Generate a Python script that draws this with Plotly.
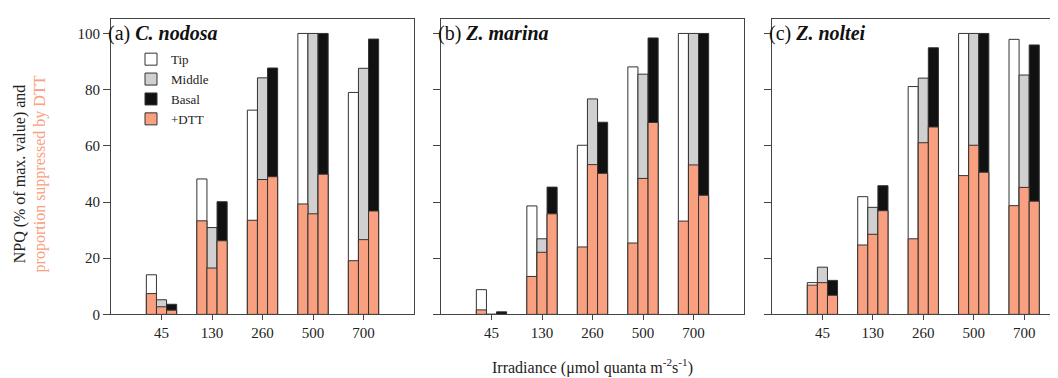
import plotly.graph_objects as go

categories = ["45", "130", "260", "500", "700"]

a_tip = [14.1, 48.2, 72.7, 100, 79.0]
a_tip_dtt = [7.4, 33.3, 33.5, 39.3, 19.1]
a_mid = [5.2, 30.9, 84.2, 100, 87.6]
a_mid_dtt = [2.7, 16.5, 48.0, 35.8, 26.6]
a_bas = [3.6, 40.1, 87.7, 100, 98.0]
a_bas_dtt = [1.5, 26.2, 49.0, 49.9, 36.8]

b_tip = [8.8, 38.6, 60.2, 88.1, 100]
b_tip_dtt = [1.6, 13.5, 24.0, 25.4, 33.2]
b_mid = [0, 26.9, 76.7, 85.5, 100]
b_mid_dtt = [0, 22.1, 53.3, 48.4, 53.2]
b_bas = [0.9, 45.3, 68.4, 98.4, 100]
b_bas_dtt = [0, 35.8, 50.2, 68.3, 42.4]

c_tip = [11.3, 41.9, 81.1, 100, 97.9]
c_tip_dtt = [10.4, 24.7, 26.9, 49.4, 38.7]
c_mid = [16.8, 38.1, 84.1, 100, 85.2]
c_mid_dtt = [11.3, 28.5, 61.1, 60.2, 45.2]
c_bas = [12.1, 45.8, 94.9, 100, 95.9]
c_bas_dtt = [6.8, 36.9, 66.7, 50.6, 40.3]

panels = [
    ("(a) ", "C. nodosa", a_tip, a_mid, a_bas, a_tip_dtt, a_mid_dtt, a_bas_dtt),
    ("(b) ", "Z. marina", b_tip, b_mid, b_bas, b_tip_dtt, b_mid_dtt, b_bas_dtt),
    ("(c) ", "Z. noltei", c_tip, c_mid, c_bas, c_tip_dtt, c_mid_dtt, c_bas_dtt),
]

W, H = 1058, 378
FONT = "'Liberation Serif', 'Times New Roman', Times, serif"
SALMON = "#F9A080"
COLORS = ["#FFFFFF", "#D0D0D0", "#111111"]
NAMES = ["Tip", "Middle", "Basal"]
OFFSETS = [-0.3, -0.1, 0.1]
BW = 0.2
OUTLINE = dict(color="#333333", width=1)

px_dom = [(103, 406), (433, 736), (764, 1058)]
xranges = [[-1, 5], [-1, 5], [-1, 4.83]]
y_bottom_px, y_top_px = 313, 11

fig = go.Figure()
for i, (lab, sp, tip, mid, bas, tipd, midd, basd) in enumerate(panels):
    xa = "x" if i == 0 else f"x{i+1}"
    ya = "y" if i == 0 else f"y{i+1}"
    for j, vals in enumerate([tip, mid, bas]):
        fig.add_trace(go.Bar(
            x=categories, y=vals, name=NAMES[j], offset=OFFSETS[j], width=BW,
            marker=dict(color=COLORS[j], line=OUTLINE),
            xaxis=xa, yaxis=ya, showlegend=(i == 0), legendrank=j + 1,
        ))
    for j, vals in enumerate([tipd, midd, basd]):
        fig.add_trace(go.Bar(
            x=categories, y=vals, name="+DTT", offset=OFFSETS[j], width=BW,
            marker=dict(color=SALMON, line=OUTLINE),
            xaxis=xa, yaxis=ya, showlegend=(i == 0 and j == 0), legendrank=4,
        ))

layout = dict(
    width=W, height=H, barmode="overlay",
    margin=dict(l=0, r=0, t=0, b=0),
    paper_bgcolor="white", plot_bgcolor="white",
    font=dict(family=FONT, size=15, color="#222222"),
    showlegend=True,
    legend=dict(x=123 / W, y=1 - 37 / H, xanchor="left", yanchor="top",
                bgcolor="rgba(0,0,0,0)", font=dict(family=FONT, size=13, color="#222222"),
                tracegroupgap=0, itemwidth=30, traceorder="normal"),
)
ydom = [(H - y_bottom_px) / H, (H - y_top_px) / H]
ymax = 100 * (y_bottom_px - y_top_px) / (313 - 26)
for i in range(3):
    sx = "xaxis" if i == 0 else f"xaxis{i+1}"
    sy = "yaxis" if i == 0 else f"yaxis{i+1}"
    x0, x1 = px_dom[i]
    layout[sx] = dict(
        domain=[x0 / W, min(x1 / W, 1.0)], anchor="y" if i == 0 else f"y{i+1}",
        type="category", categoryorder="array", categoryarray=categories,
        range=xranges[i], showline=True, mirror=True, linecolor="#444444", linewidth=1,
        ticks="outside", ticklen=5, tickcolor="#444444", showgrid=False, zeroline=False,
        tickfont=dict(family=FONT, size=15, color="#222222"),
    )
    layout[sy] = dict(
        domain=ydom, anchor="x" if i == 0 else f"x{i+1}",
        range=[0, ymax], tickvals=[0, 20, 40, 60, 80, 100],
        showticklabels=(i == 0), showline=True, mirror=(i < 2),
        linecolor="#444444", linewidth=1, ticks="outside", ticklen=7,
        tickcolor="#444444", showgrid=False, zeroline=False,
        tickfont=dict(family=FONT, size=15, color="#222222"),
    )
fig.update_layout(**layout)

for i, (lab, sp, *_rest) in enumerate(panels):
    x0 = px_dom[i][0]
    fig.add_annotation(
        x=(x0 - 5) / W, y=1 - 26 / H, xref="paper", yref="paper",
        xanchor="left", yanchor="middle", showarrow=False,
        text=f"{lab}<b><i>{sp}</i></b>",
        font=dict(family=FONT, size=20, color="#111111"),
    )

fig.add_annotation(
    x=22 / W, y=1 - 170 / H, xref="paper", yref="paper",
    xanchor="center", yanchor="middle", showarrow=False, textangle=-90,
    text=f"NPQ (% of max. value) and<br><span style='color:{SALMON}'>proportion suppressed by DTT</span>",
    font=dict(family=FONT, size=16, color="#222222"),
)

fig.add_annotation(
    x=584 / W, y=1 - 366 / H, xref="paper", yref="paper",
    xanchor="center", yanchor="middle", showarrow=False,
    text="Irradiance (\u03bcmol quanta m<sup>-2</sup>s<sup>-1</sup>)",
    font=dict(family=FONT, size=16, color="#222222"),
)

fig.write_html("out.html")
